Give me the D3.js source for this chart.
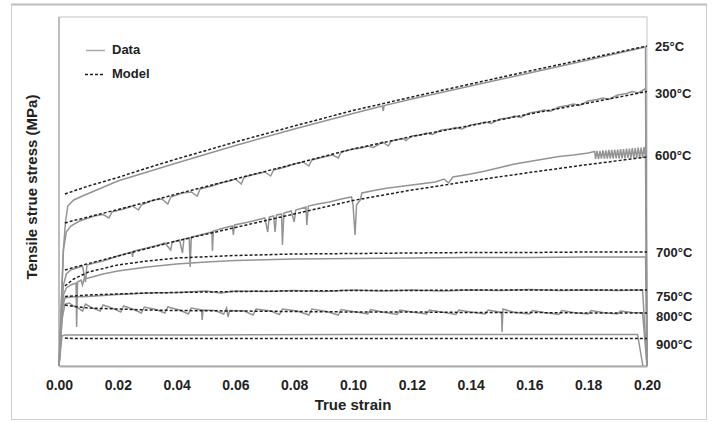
<!DOCTYPE html>
<html>
<head>
<meta charset="utf-8">
<script src="https://cdn.jsdelivr.net/npm/d3@7"></script>
<style>
  body { margin: 0; background: #fff; }
  text { font-family: "Liberation Sans", Arial, sans-serif; font-weight: bold; fill: #222; }
</style>
</head>
<body>
<div id="chart"></div>
<script>
// strain ticks along the bottom
const strainTicks = [0, 0.02, 0.04, 0.06, 0.08, 0.10, 0.12, 0.14, 0.16, 0.18, 0.20];

// model curves (dashed), one stress array per temperature on a shared strain grid
const modelStrain = [0.002, 0.005, 0.01, 0.02, 0.03, 0.04, 0.06, 0.08, 0.10, 0.12, 0.14, 0.16, 0.18, 0.20];
const model25  = [344, 350, 360, 377, 396, 414, 448, 480, 511, 538, 564, 590, 615, 640];
const model300 = [286, 291, 298, 313, 328, 344, 374, 404, 434, 459, 481, 504, 526, 549];
const model600 = [192, 197, 205, 220, 235, 250, 277, 304, 331, 352, 370, 387, 403, 418];
const model700 = [160, 174, 188, 202, 210, 216, 221, 224, 225, 226, 227, 227, 228, 228];
const model750 = [139, 140, 142, 144, 146, 147, 149, 150, 151, 151, 152, 152, 152, 152];
const model800 = [122, 119, 116, 114, 112, 111, 110, 109, 108, 108, 107, 107, 106, 106];
const model900 = [56, 55, 55, 55, 55, 55, 55, 55, 55, 55, 55, 55, 55, 55];

const data25 = [[0,0],[0.0008,132],[0.0015,232],[0.0022,288],[0.003,320],[0.005,332],[0.008,340],[0.012,350],
  [0.02,370],[0.03,388],[0.04,406],[0.06,441],[0.08,474],[0.10,505],[0.1100,520],[0.1103,510],[0.1106,521],
  [0.12,534],[0.14,560],[0.16,586],[0.18,612],[0.1995,638],[0.2,0]];

const data300 = [[0,0],[0.0008,120],[0.0015,232],[0.0025,268],[0.004,280],[0.007,290],[0.01,296],[0.012,300],
  [0.015,303],[0.017,296],[0.018,308],[0.022,314],[0.025,320],[0.027,312],[0.028,322],[0.032,332],[0.035,334],
  [0.037,324],[0.038,338],[0.042,346],[0.045,348],[0.047,340],[0.048,354],[0.052,360],[0.055,366],[0.058,370],
  [0.06,374],[0.062,364],[0.063,378],[0.067,384],[0.07,388],[0.072,380],[0.073,392],[0.077,398],[0.08,404],
  [0.083,408],[0.085,400],[0.086,412],[0.09,418],[0.093,422],[0.095,416],[0.096,428],[0.10,434],[0.103,436],
  [0.105,440],[0.107,437],[0.11,448],[0.112,440],[0.113,450],[0.117,455],[0.118,451],[0.12,460],[0.123,462],
  [0.125,466],[0.127,463],[0.13,472],[0.133,474],[0.135,477],[0.137,474],[0.14,482],[0.143,485],[0.145,488],
  [0.147,485],[0.15,494],[0.153,496],[0.155,500],[0.157,497],[0.16,506],[0.163,509],[0.165,512],[0.167,509],
  [0.17,518],[0.173,521],[0.175,524],[0.177,521],[0.18,530],[0.183,533],[0.185,536],[0.187,533],[0.19,542],
  [0.193,545],[0.195,549],[0.197,546],[0.1995,555],[0.2,0]];

const data600 = [[0,0],[0.0008,92],[0.0015,162],[0.0025,184],[0.004,192],[0.006,196],[0.008,200],[0.009,168],
  [0.0095,202],[0.012,206],[0.015,210],[0.018,216],[0.02,220],[0.0248,228],[0.025,218],[0.0253,230],[0.03,236],
  [0.034,242],[0.036,246],[0.038,232],[0.0385,248],[0.041,252],[0.042,226],[0.0425,254],[0.0443,256],
  [0.0446,198],[0.045,258],[0.048,262],[0.052,268],[0.0522,230],[0.0525,270],[0.056,276],[0.059,280],
  [0.0593,262],[0.0597,282],[0.063,286],[0.066,290],[0.070,296],[0.071,268],[0.0715,298],[0.073,300],
  [0.0735,268],[0.074,302],[0.0757,304],[0.076,242],[0.0765,306],[0.079,310],[0.080,288],[0.0805,312],
  [0.084,318],[0.0843,282],[0.0848,320],[0.088,324],[0.092,328],[0.096,334],[0.0995,338],[0.1,322],
  [0.1007,262],[0.1012,322],[0.1025,332],[0.103,346],[0.108,352],[0.112,356],[0.12,362],[0.128,368],
  [0.131,374],[0.1325,366],[0.134,378],[0.14,384],[0.145,390],[0.15,397],[0.155,404],[0.16,409],[0.165,414],
  [0.17,419],[0.175,422],[0.18,426],[0.1822,429],
  [0.1825,414],[0.183,430],[0.1835,414],[0.184,430],[0.1845,415],[0.185,431],[0.1855,415],[0.186,431],
  [0.1865,415],[0.187,432],[0.1875,415],[0.188,432],[0.1885,415],[0.189,433],[0.1895,415],[0.19,433],
  [0.1905,415],[0.191,434],[0.1915,415],[0.192,434],[0.1925,415],[0.193,435],[0.1935,416],[0.194,435],
  [0.1945,416],[0.195,436],[0.1955,416],[0.196,436],[0.1965,416],[0.197,437],[0.1975,416],[0.198,437],
  [0.1985,416],[0.199,438],[0.1995,416],[0.2,0]];

const data700 = [[0,0],[0.0008,72],[0.0015,142],[0.0025,156],[0.004,162],[0.0058,166],[0.006,78],[0.0063,168],
  [0.0075,172],[0.008,162],[0.0085,174],[0.01,176],[0.015,184],[0.02,190],[0.03,198],[0.04,204],[0.05,208],
  [0.06,211],[0.08,214],[0.10,215],[0.12,216],[0.14,217],[0.16,217],[0.18,218],[0.1995,218],[0.2,0]];

const data750 = [[0,0],[0.001,112],[0.002,136],[0.004,138],[0.01,139],[0.02,143],[0.03,146],[0.04,147],
  [0.05,150],[0.055,146],[0.06,150],[0.07,149],[0.08,151],[0.09,149],[0.10,152],[0.11,150],[0.12,152],
  [0.13,150],[0.14,152],[0.15,151],[0.16,153],[0.17,151],[0.18,152],[0.19,151],[0.1985,152],[0.2,0]];

const data800 = [[0,0],[0.001,92],[0.002,124],[0.0035,126],[0.005,120],[0.006,118],[0.008,110],[0.009,124],
  [0.011,117],[0.014,110],[0.015,122],[0.018,116],[0.021,108],[0.022,120],[0.025,114],[0.028,106],[0.029,118],
  [0.033,113],[0.036,106],[0.037,118],[0.041,112],[0.044,104],[0.045,116],[0.0485,112],[0.0487,92],[0.049,112],
  [0.053,111],[0.056,104],[0.057,116],[0.0575,98],[0.058,111],[0.063,110],[0.066,102],[0.067,114],[0.072,110],
  [0.075,103],[0.076,114],[0.081,110],[0.085,102],[0.086,114],[0.091,109],[0.095,102],[0.096,113],[0.10,109],
  [0.105,104],[0.106,113],[0.11,108],[0.115,103],[0.116,112],[0.12,108],[0.125,104],[0.126,112],[0.13,108],
  [0.135,103],[0.136,112],[0.14,108],[0.145,104],[0.146,112],[0.1505,107],[0.1507,68],[0.151,114],[0.155,107],
  [0.16,104],[0.161,111],[0.165,107],[0.17,103],[0.171,111],[0.175,107],[0.18,104],[0.181,111],[0.185,107],
  [0.19,104],[0.191,110],[0.195,107],[0.1985,106],[0.2,0]];

const data900 = [[0,0],[0.001,60],[0.002,62],[0.05,62],[0.1,63],[0.15,63],[0.1968,63],[0.1986,0]];

const tempLabels = ["25°C", "300°C", "600°C", "700°C", "750°C", "800°C", "900°C"];
const labelStress = [640, 546, 421, 227, 140, 100, 43];

const margin = {top: 17, right: 65, bottom: 56, left: 59},
    width = 712 - margin.left - margin.right,
    height = 422 - margin.top - margin.bottom;

const svg = d3.select("#chart")
  .append("svg")
    .attr("width", 712)
    .attr("height", 422);

// outer figure border
svg.append("rect")
  .attr("x", 11.5).attr("y", 4.5)
  .attr("width", 695).attr("height", 415)
  .attr("fill", "none").attr("stroke", "#cfcfcf");
svg.append("line")
  .attr("x1", 11).attr("x2", 707).attr("y1", 4.5).attr("y2", 4.5)
  .attr("stroke", "#bdbdbd").attr("stroke-width", 2);

const g = svg.append("g")
  .attr("transform", `translate(${margin.left}, ${margin.top})`);

const x = d3.scaleLinear().domain([0, 0.2]).range([0, width]);
const y = d3.scaleLinear().domain([0, 698]).range([height, 0]);

// plot frame
g.append("rect")
  .attr("x", 0).attr("y", 0)
  .attr("width", width).attr("height", height)
  .attr("fill", "none").attr("stroke", "#c4c4c4");

g.append("g")
  .attr("transform", `translate(0, ${height})`)
  .call(d3.axisBottom(x).tickValues(strainTicks).tickSize(0).tickPadding(14).tickFormat(d3.format(".2f")))
  .call(a => a.select(".domain").attr("stroke", "#adadad").attr("stroke-width", 2))
  .selectAll("text")
    .style("font-size", "14px")
    .style("fill", "#222");

g.append("line")
  .attr("x1", 0).attr("x2", 0).attr("y1", 0).attr("y2", height)
  .attr("stroke", "#b0b0b0").attr("stroke-width", 1.5);

// axis titles
svg.append("text")
  .attr("x", 353).attr("y", 410)
  .style("text-anchor", "middle")
  .style("font-size", "15px")
  .text("True strain");

svg.append("text")
  .attr("transform", "translate(37, 187) rotate(-90)")
  .style("text-anchor", "middle")
  .style("font-size", "15px")
  .text("Tensile strue stress (MPa)");

const line = d3.line()
  .x(d => x(d[0]))
  .y(d => y(d[1]));

const dataSeries = [data25, data300, data600, data700, data750, data800, data900];
const modelSeries = [model25, model300, model600, model700, model750, model800, model900];

g.selectAll("path.data")
  .data(dataSeries)
  .join("path")
    .attr("class", "data")
    .attr("d", d => line(d))
    .attr("fill", "none")
    .attr("stroke", "#949494")
    .attr("stroke-width", 1.5);

g.selectAll("path.model")
  .data(modelSeries)
  .join("path")
    .attr("class", "model")
    .attr("d", d => line(d.map((v, i) => [modelStrain[i], v])))
    .attr("fill", "none")
    .attr("stroke", "#1e1e1e")
    .attr("stroke-width", 1.5)
    .attr("stroke-dasharray", "3,2");

// temperature labels on the right
g.selectAll("text.temp")
  .data(tempLabels)
  .join("text")
    .attr("class", "temp")
    .attr("x", (d, i) => i < 3 ? width + 8 : width + 9)
    .attr("y", (d, i) => y(labelStress[i]))
    .attr("dy", "0.35em")
    .style("font-size", "13px")
    .text(d => d);

// legend
const legend = svg.append("g");
legend.append("line")
  .attr("x1", 86).attr("x2", 105).attr("y1", 50.5).attr("y2", 50.5)
  .attr("stroke", "#a8a8a8").attr("stroke-width", 1.5);
legend.append("text").attr("x", 112).attr("y", 54).style("font-size", "13px").text("Data");
legend.append("line")
  .attr("x1", 85).attr("x2", 105).attr("y1", 74.5).attr("y2", 74.5)
  .attr("stroke", "#1e1e1e").attr("stroke-width", 1.5).attr("stroke-dasharray", "3,2");
legend.append("text").attr("x", 112).attr("y", 78).style("font-size", "13px").text("Model");
</script>
</body>
</html>
